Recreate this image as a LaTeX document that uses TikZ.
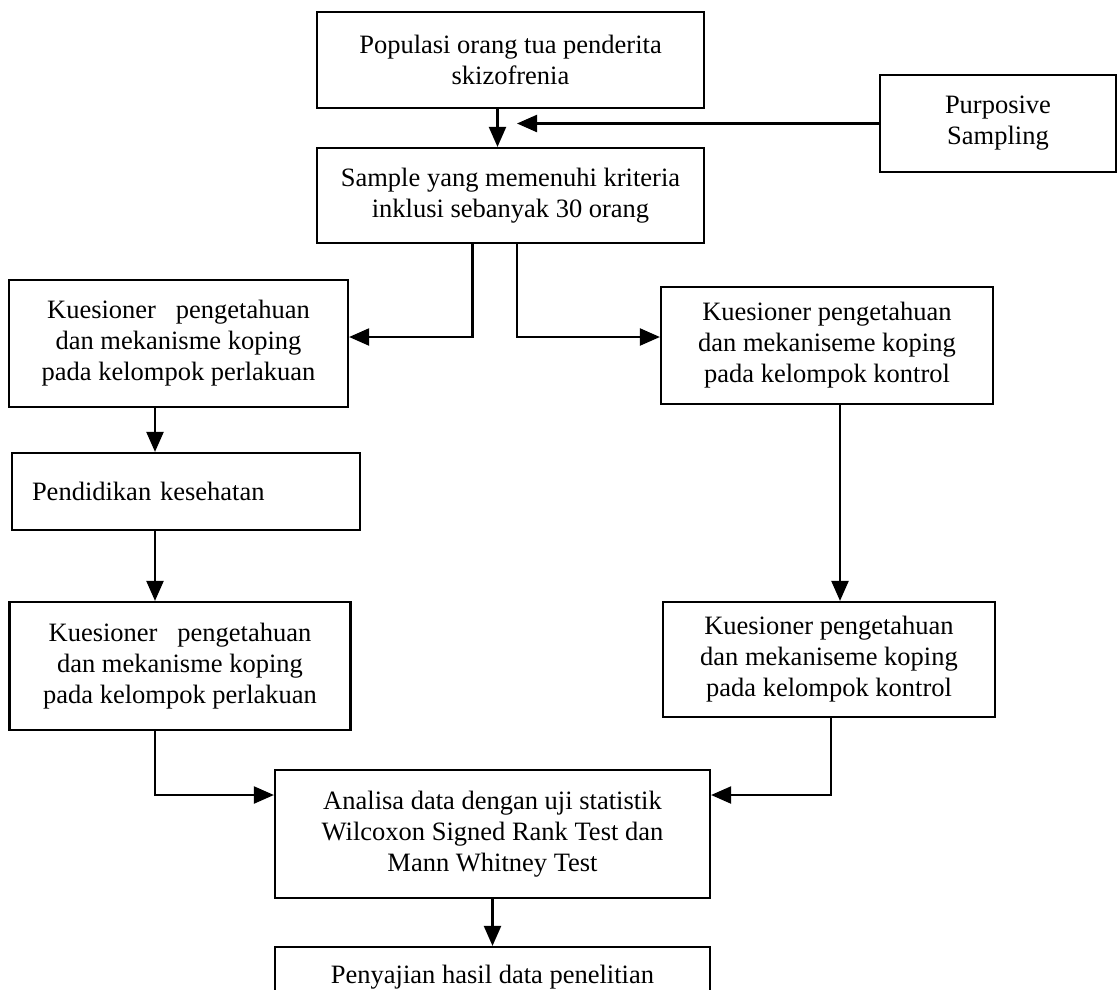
\documentclass[tikz,border=0pt]{standalone}
\usepackage{fontspec}
\setmainfont{Liberation Serif}
\usetikzlibrary{arrows.meta}

\begin{document}
\begin{tikzpicture}[x=1pt, y=-1pt,
    box/.style={draw, line width=2.2pt, align=center, inner sep=0pt, font=\fontsize{26.5}{31}\selectfont},
    arr/.style={-{Triangle[length=20pt, width=17pt]}, line width=2.2pt}]
    \fill[white] (0,0) rectangle (1119,989);
    \clip (0,0) rectangle (1119,989);

    % Population and sampling
    \node[box, minimum width=387pt, minimum height=96pt] (populasi) at (510.5,60) {Populasi orang tua penderita\\
        skizofrenia};
    \node[box, minimum width=236pt, minimum height=97pt] (purposive) at (998,123.5) {Purposive\\
        Sampling};
    \node[box, minimum width=387pt, minimum height=95pt] (sampel) at (510.5,195.5) {Sample yang memenuhi kriteria\\
        inklusi sebanyak 30 orang};

    % Pre-test questionnaires
    \node[box, minimum width=339pt, minimum height=127pt] (preperlakuan) at (178.5,343.5) {Kuesioner \ \ pengetahuan\\
        dan mekanisme koping\\
        pada kelompok perlakuan};
    \node[box, minimum width=332pt, minimum height=117pt] (prekontrol) at (827,345.5) {Kuesioner pengetahuan\\
        dan mekaniseme koping\\
        pada kelompok kontrol};

    % Intervention
    \node[box, align=left, text width=308pt, inner xsep=20pt, minimum height=77pt] (pendidikan) at (186,491.5) {Pendidikan kesehatan};

    % Post-test questionnaires
    \node[box, minimum width=341pt, minimum height=128pt] (postperlakuan) at (180,666) {Kuesioner \ \ pengetahuan\\
        dan mekanisme koping\\
        pada kelompok perlakuan};
    \node[box, minimum width=332pt, minimum height=115pt] (postkontrol) at (829,659.5) {Kuesioner pengetahuan\\
        dan mekaniseme koping\\
        pada kelompok kontrol};

    % Analysis and results
    \node[box, minimum width=435pt, minimum height=128pt] (analisa) at (492.5,834) {Analisa data dengan uji statistik\\
        Wilcoxon Signed Rank Test dan\\
        Mann Whitney Test};
    \node[box, minimum width=435pt, minimum height=126pt] (penyajian) at (492.5,1010) {Penyajian hasil data penelitian\\[40pt]};

    % Helper points for the vertical lines
    \coordinate (masuk) at (517,123.5);
    \coordinate (kiri) at (155,0);
    \coordinate (kanan) at (840,0);
    \coordinate (kananbawah) at (831,0);

    % Edges at the top
    \draw[arr] ([xshift=-13pt]populasi.south) -- ([xshift=-13pt]sampel.north);
    \draw[arr] (purposive.west) -- (masuk);

    % Edges from sample to both groups
    \draw[arr] ([xshift=-38pt]sampel.south) |- ([yshift=6.5pt]preperlakuan.east);
    \draw[arr] ([xshift=6.5pt]sampel.south) |- ([yshift=8.5pt]prekontrol.west);

    % Edges down each group
    \draw[arr] (preperlakuan.south -| kiri) -- (pendidikan.north -| kiri);
    \draw[arr] (pendidikan.south -| kiri) -- (postperlakuan.north -| kiri);
    \draw[arr] (prekontrol.south -| kanan) -- (postkontrol.north -| kanan);

    % Edges into the analysis
    \draw[arr] (postperlakuan.south -| kiri) |- ([yshift=39pt]analisa.west);
    \draw[arr] (postkontrol.south -| kananbawah) |- ([yshift=39pt]analisa.east);
    \draw[arr] (analisa.south) -- (penyajian.north);
\end{tikzpicture}
\end{document}
